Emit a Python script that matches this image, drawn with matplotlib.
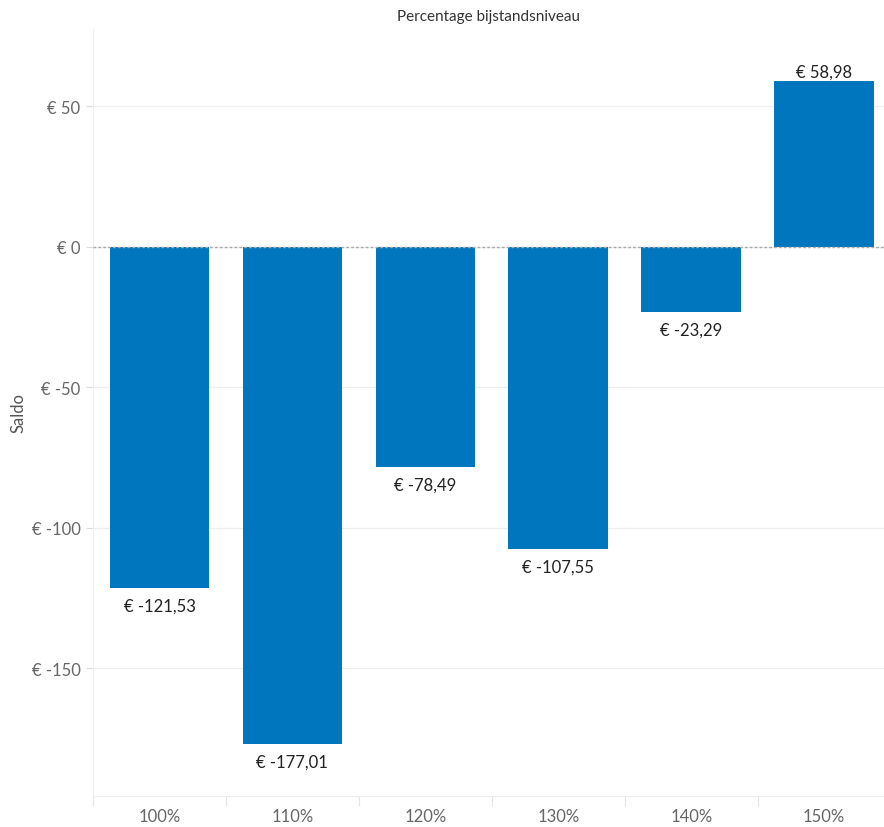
import numpy as np
import matplotlib.pyplot as plt
from matplotlib.ticker import FixedLocator, FuncFormatter

plt.rcParams['font.family'] = ['Lato', 'DejaVu Sans']

categories = ['100%', '110%', '120%', '130%', '140%', '150%']
saldo = [-121.53, -177.01, -78.49, -107.55, -23.29, 58.98]
yticks = [50, 0, -50, -100, -150]

fig = plt.figure(figsize=(8.84, 8.28), dpi=100)
ax = fig.add_axes([93 / 884, 31 / 828, 791 / 884, 767 / 828])

x = np.arange(len(categories))
bars = ax.bar(x, saldo, width=0.75, color='#0076BE', zorder=3)

for xi, v in zip(x, saldo):
    txt = '€ ' + f'{v:.2f}'.replace('.', ',')
    if v >= 0:
        ax.annotate(txt, (xi, v), xytext=(0, 1), textcoords='offset points',
                    ha='center', va='bottom', fontsize=12, color='#222222')
    else:
        ax.annotate(txt, (xi, v), xytext=(0, -7), textcoords='offset points',
                    ha='center', va='top', fontsize=12, color='#222222')

ax.set_xlim(-0.5, 5.45)
ax.set_ylim(-195.5, 77.4)

ax.yaxis.set_major_locator(FixedLocator(yticks))
ax.yaxis.set_major_formatter(FuncFormatter(lambda v, p: f'€ {int(v)}'))
ax.tick_params(axis='y', length=5, width=0.8, color='#dddddd', labelcolor='#666666',
               labelsize=12, pad=4)
ax.grid(axis='y', color='#eeeeee', linewidth=0.9, zorder=0)

ax.set_xticks(x)
ax.set_xticklabels(categories)
ax.tick_params(axis='x', length=0, labelcolor='#666666', labelsize=12, pad=9)
ax.set_xticks(np.arange(len(categories)) - 0.5, minor=True)
ax.tick_params(axis='x', which='minor', length=7, width=0.8, color='#e4e4e4')

ax.axhline(0, color='#aaaaaa', linestyle=(0, (2, 1.5)), linewidth=1.0, zorder=4)

for s in ['top', 'right']:
    ax.spines[s].set_visible(False)
ax.spines['left'].set_color('#eeeeee')
ax.spines['bottom'].set_color('#eeeeee')

fig.text(19 / 884, 1 - 413 / 828, 'Saldo', rotation=90, ha='center', va='center',
         fontsize=12, color='#555555')
fig.text(488 / 884, 1 - 17 / 828, 'Percentage bijstandsniveau', ha='center', va='center',
         fontsize=11, color='#333333')

fig.savefig('out.png', dpi=100)
